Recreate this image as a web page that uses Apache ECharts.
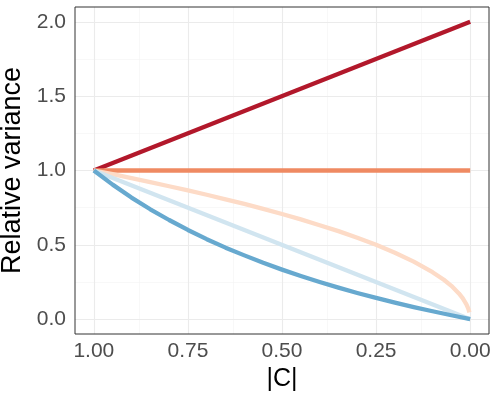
<!DOCTYPE html>
<html>
<head>
<meta charset="utf-8">
<script src="https://cdn.jsdelivr.net/npm/echarts@6/dist/echarts.min.js"></script>
<style>
html,body{margin:0;padding:0;background:#fff;}
#chart{width:498px;height:399px;}
</style>
</head>
<body>
<div id="chart"></div>
<script>
// Tick labels
const xTicks = [0, 0.25, 0.5, 0.75, 1];
const xMinor = [0.125, 0.375, 0.625, 0.875];
const yTicks = [0, 0.5, 1, 1.5, 2];
const yMinor = [0.25, 0.75, 1.25, 1.75];

// Series values
const xRed = [1, 0];
const yRed = [1, 2];
const xOrange = [1, 0];
const yOrange = [1, 1];
const xPeach = [1, 0.95, 0.9, 0.85, 0.8, 0.75, 0.7, 0.65, 0.6, 0.55, 0.5, 0.45, 0.4, 0.35, 0.3, 0.25, 0.2, 0.15, 0.1, 0.07, 0.05, 0.03, 0.02, 0.01, 0.005, 0.002];
const yPeach = [1, 0.975, 0.949, 0.922, 0.894, 0.866, 0.837, 0.806, 0.775, 0.742, 0.707, 0.671, 0.632, 0.592, 0.548, 0.5, 0.447, 0.387, 0.316, 0.265, 0.224, 0.173, 0.141, 0.1, 0.071, 0.045];
const xLightBlue = [1, 0];
const yLightBlue = [1, 0];
const xBlue = [1, 0.95, 0.9, 0.85, 0.8, 0.75, 0.7, 0.65, 0.6, 0.55, 0.5, 0.45, 0.4, 0.35, 0.3, 0.25, 0.2, 0.15, 0.1, 0.05, 0];
const yBlue = [1, 0.905, 0.818, 0.739, 0.667, 0.6, 0.538, 0.481, 0.429, 0.379, 0.333, 0.29, 0.25, 0.212, 0.176, 0.143, 0.111, 0.081, 0.053, 0.026, 0];

const pairs = (xs, ys) => xs.map((x, i) => [x, ys[i]]);
const FONT = '"Liberation Sans", Arial, Helvetica, sans-serif';

const gridMajor = {color: '#EBEBEB', width: 1.1, type: 'solid'};
const gridMinor = {color: '#F4F4F4', width: 0.6, type: 'solid'};

function lineSeries(xs, ys, color) {
  return {
    type: 'line', data: pairs(xs, ys), showSymbol: false, symbol: 'none',
    smooth: false,
    lineStyle: {color: color, width: 4.3, cap: 'butt', join: 'round'},
    silent: true, z: 3, animation: false
  };
}

const chart = echarts.init(document.getElementById('chart'), null, {renderer: 'canvas'});
chart.setOption({
  animation: false,
  backgroundColor: '#ffffff',
  grid: {left: 75, right: 9, top: 7, bottom: 65, outerBoundsMode: 'none', containLabel: false,
         show: true, borderColor: '#333333', borderWidth: 1, backgroundColor: 'transparent', z: 10},
  xAxis: {
    type: 'value', inverse: true, min: -0.05, max: 1.05,
    axisLine: {show: false},
    splitLine: {show: false},
    axisTick: {show: true, customValues: xTicks, length: 4, lineStyle: {color: '#333333', width: 1}},
    axisLabel: {customValues: xTicks, formatter: v => v.toFixed(2), color: '#4D4D4D', fontSize: 21, fontFamily: FONT, margin: 7},
    name: '|C|', nameLocation: 'middle', nameGap: 25,
    nameTextStyle: {color: '#000', fontSize: 25, fontFamily: FONT}
  },
  yAxis: {
    type: 'value', min: -0.1, max: 2.1,
    axisLine: {show: false},
    splitLine: {show: false},
    axisTick: {show: true, customValues: yTicks, length: 4, lineStyle: {color: '#333333', width: 1}},
    axisLabel: {customValues: yTicks, formatter: v => v.toFixed(1), color: '#4D4D4D', fontSize: 21, fontFamily: FONT, margin: 9},
    name: 'Relative variance', nameLocation: 'middle', nameGap: 40, nameRotate: 90,
    nameTextStyle: {color: '#000', fontSize: 27, fontFamily: FONT}
  },
  series: [
    {
      type: 'line', data: [], silent: true, z: 1,
      markLine: {
        silent: true, symbol: 'none', label: {show: false}, animation: false, z: 1,
        lineStyle: gridMinor,
        data: xMinor.map(v => ({xAxis: v})).concat(yMinor.map(v => ({yAxis: v})))
      }
    },
    {
      type: 'line', data: [], silent: true, z: 1,
      markLine: {
        silent: true, symbol: 'none', label: {show: false}, animation: false, z: 1,
        lineStyle: gridMajor,
        data: xTicks.map(v => ({xAxis: v})).concat(yTicks.map(v => ({yAxis: v})))
      }
    },
    lineSeries(xRed, yRed, '#B2182B'),
    lineSeries(xOrange, yOrange, '#EF8A62'),
    lineSeries(xPeach, yPeach, '#FDDBC7'),
    lineSeries(xLightBlue, yLightBlue, '#D1E5F0'),
    lineSeries(xBlue, yBlue, '#67A9CF')
  ]
});
</script>
</body>
</html>
